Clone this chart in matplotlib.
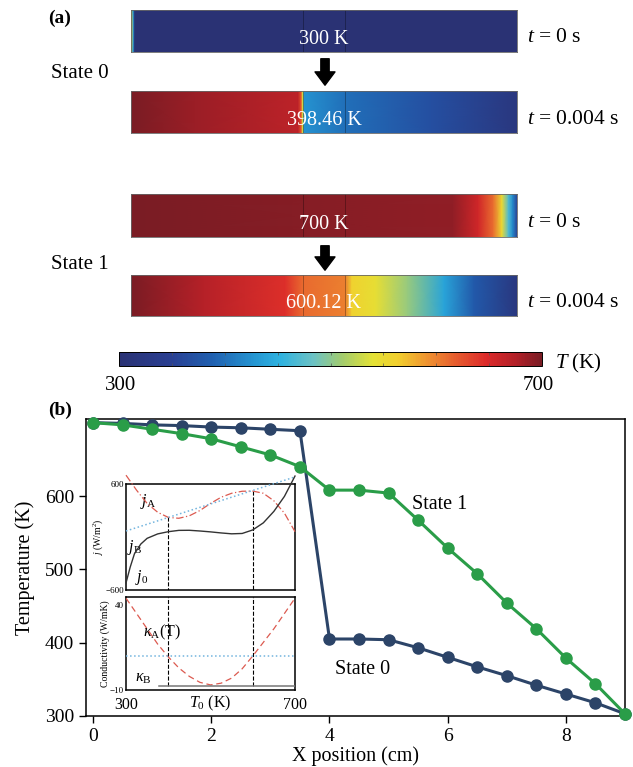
import numpy as np
import matplotlib
matplotlib.use('Agg')
import matplotlib.pyplot as plt
from matplotlib.colors import LinearSegmentedColormap, Normalize
from matplotlib.patches import FancyArrowPatch
import matplotlib.cm as cm

plt.rcParams['font.family'] = ['Liberation Serif', 'DejaVu Serif']
plt.rcParams['mathtext.fontset'] = 'custom'
plt.rcParams['mathtext.rm'] = 'Liberation Serif'
plt.rcParams['mathtext.it'] = 'Liberation Serif:italic'
plt.rcParams['mathtext.bf'] = 'Liberation Serif:bold'

W, H = 633, 767

# ---- panel (b): temperature along the rod at t = 0.004 s
x_cm = [0, 0.5, 1, 1.5, 2, 2.5, 3, 3.5, 4, 4.5, 5, 5.5, 6, 6.5, 7, 7.5, 8, 8.5, 9]
T_state0 = [700, 699, 697, 696, 694, 693, 691, 689, 405, 405, 404, 393, 380,
            367, 355, 342, 330, 318, 303]
T_state1 = [700, 697, 691, 685, 678, 667, 656, 640, 608, 608, 604, 567, 529,
            494, 454, 419, 379, 344, 303]

# ---- panel (a): temperature profiles painted on the rods
rod_s0_t0_x = [0, 0.02, 0.05, 0.09, 9]
rod_s0_t0_T = [640, 560, 430, 300, 300]
rod_s0_t1_x = [0, 1.5, 3.9, 3.97, 4.0, 4.04, 5.0, 7.0, 9.0]
rod_s0_t1_T = [700, 685, 668, 620, 545, 425, 398.46, 368, 318]
rod_s1_t0_x = [0, 7.5, 8.1, 8.45, 8.65, 8.8, 8.9, 9.0]
rod_s1_t0_T = [700, 690, 655, 610, 550, 470, 420, 350]
rod_s1_t1_x = [0, 1.7, 3.6, 4.0, 5.0, 5.15, 5.7, 6.45, 7.3, 8.0, 9.0]
rod_s1_t1_T = [700, 672, 645, 612, 600.12, 560, 545, 505, 440, 380, 318]
rod_labels = ['300 K', '398.46 K', '700 K', '600.12 K']
time_labels = [r'$t$ = 0 s', r'$t$ = 0.004 s', r'$t$ = 0 s', r'$t$ = 0.004 s']

# ---- inset: flux vs T0
T0_A = [300, 325, 350, 375, 400, 425, 450, 475, 500, 525, 550, 575, 600, 625,
        650, 675, 700]
j_A = [700, 530, 380, 280, 222, 212, 240, 300, 380, 450, 495, 518, 520, 495,
       410, 270, 60]
T0_B = [300, 310, 320, 335, 350, 375, 400, 425, 450, 475, 500, 525, 550, 575,
        600, 625, 650, 675, 700]
j_B = [-520, -340, -190, -80, -15, 35, 60, 75, 76, 68, 58, 46, 36, 40, 80, 160,
       290, 460, 690]
T0_line = [300, 700]
j_0 = [68, 680]
T_eq = [398.46, 600.12]
j_eq = [222, 520]

# ---- inset: conductivities
kappa_A = [44, 35, 26, 17, 9.5, 3, -2, -5.5, -7, -6, -3, 2.5, 10, 18, 26, 35, 44]
kappa_B_T = [378, 700]
kappa_B = [-7.5, -7.5]
kappa_ref = [10, 10]

cmap = LinearSegmentedColormap.from_list('rod', [
    (0.0, '#2a3274'), (0.12, '#2a3f92'), (0.22, '#2060b0'), (0.32, '#2596d2'),
    (0.38, '#2eb2e0'), (0.46, '#6cc2c4'), (0.53, '#a4cc6a'), (0.6, '#e4e236'),
    (0.66, '#f2cf2e'), (0.74, '#ee8a30'), (0.8, '#e65a2e'), (0.87, '#dc2a2a'),
    (0.94, '#b22028'), (1.0, '#7a1c24')])
norm = Normalize(300, 700)

fig = plt.figure(figsize=(W / 100, H / 100), dpi=100)


def fx(px):
    return px / W


def fy(py):
    return 1 - py / H


def draw_rod(top, bot, xs, Ts, label):
    ax = fig.add_axes([fx(131), fy(bot), fx(517 - 131), (bot - top) / H])
    X = np.array([xs, xs], dtype=float)
    Y = np.array([np.zeros(len(xs)), np.ones(len(xs))])
    C = np.array([Ts, Ts], dtype=float)
    ax.pcolormesh(X, Y, C, shading='gouraud', cmap=cmap, norm=norm)
    ax.set_xlim(0, 9)
    ax.set_ylim(0, 1)
    for xb in (4, 5):
        ax.axvline(xb, color='k', lw=0.6, alpha=0.35)
    ax.text(4.5, 0.3, label, color='white', ha='center', va='center',
            fontsize=14.5)
    ax.set_xticks([])
    ax.set_yticks([])
    for s in ax.spines.values():
        s.set_color('#666666')
        s.set_linewidth(0.6)
    return ax


rods = [(10, 52, rod_s0_t0_x, rod_s0_t0_T),
        (91, 133, rod_s0_t1_x, rod_s0_t1_T),
        (194, 237, rod_s1_t0_x, rod_s1_t0_T),
        (275, 316, rod_s1_t1_x, rod_s1_t1_T)]
for (top, bot, xs, Ts), lab, tl in zip(rods, rod_labels, time_labels):
    draw_rod(top, bot, xs, Ts, lab)
    fig.text(fx(527), fy((top + bot) / 2 + 7), tl, fontsize=15.5, va='center')

fig.text(fx(48), fy(18), '(a)', fontsize=14, fontweight='bold', va='center')
fig.text(fx(51), fy(74), 'State 0', fontsize=15, va='center')
fig.text(fx(51), fy(265), 'State 1', fontsize=15, va='center')

for y0, y1 in [(56, 88), (243, 273)]:
    arr = FancyArrowPatch((fx(325), fy(y0)), (fx(325), fy(y1)),
                          transform=fig.transFigure,
                          arrowstyle='simple,head_length=0.8,head_width=1.2,tail_width=0.5',
                          mutation_scale=12, color='k')
    fig.patches.append(arr)

# colour scale
cax = fig.add_axes([fx(119), fy(366), fx(542 - 119), 14 / H])
cb = fig.colorbar(cm.ScalarMappable(norm=norm, cmap=cmap), cax=cax,
                  orientation='horizontal')
cb.set_ticks([350, 400, 450, 500, 550, 600, 650])
cax.tick_params(direction='in', length=2.5, width=0.5, color='#555555',
                labelbottom=False, top=True)
cb.outline.set_linewidth(0.7)
fig.text(fx(121), fy(385), '300', fontsize=15, ha='center', va='center')
fig.text(fx(538), fy(385), '700', fontsize=15, ha='center', va='center')
fig.text(fx(555), fy(363), r'$T$ (K)', fontsize=15, va='center')

# ---- main temperature plot
ax = fig.add_axes([fx(86), fy(716), fx(625 - 86), (716 - 419) / H])
ax.plot(x_cm, T_state0, '-o', color='#2c4468', lw=2.2, ms=8, clip_on=False,
        zorder=3)
ax.plot(x_cm, T_state1, '-o', color='#2a9d48', lw=2.2, ms=8, clip_on=False,
        zorder=3)
ax.set_xlim(-0.12, 9)
ax.set_ylim(300, 705)
ax.set_xticks([0, 2, 4, 6, 8])
ax.set_yticks([300, 400, 500, 600])
ax.tick_params(labelsize=14, length=5, width=1, direction='out')
for s in ax.spines.values():
    s.set_linewidth(1.1)
ax.set_xlabel('X position (cm)', fontsize=14.5, labelpad=1)
ax.set_ylabel('Temperature (K)', fontsize=14.5, labelpad=7)
ax.text(5.4, 588, 'State 1', fontsize=14.5, va='center')
ax.text(4.1, 364, 'State 0', fontsize=14.5, va='center')
fig.text(fx(48), fy(410), '(b)', fontsize=14, fontweight='bold', va='center')

# ---- inset: fluxes
axj = fig.add_axes([fx(126), fy(590), fx(295 - 126), (590 - 484) / H])
axj.plot(T0_A, j_A, color='#dc5a50', ls=(0, (6, 2, 1, 2)), lw=0.9,
         clip_on=False, zorder=4)
axj.plot(T0_line, j_0, color='#72b4de', ls=':', lw=1.1, clip_on=False, zorder=4)
axj.plot(T0_B, j_B, color='#333333', lw=1.0, clip_on=False, zorder=4)
axj.vlines(T_eq, j_eq, -600, colors='k', linestyles='--', lw=0.8)
axj.set_xlim(300, 700)
axj.set_ylim(-600, 600)
axj.set_xticks([])
axj.set_yticks([-600, 600])
axj.tick_params(labelsize=6.5, length=0, pad=1.5)
axj.set_ylabel(r'$j$ (W/m$^2$)', fontsize=7, labelpad=0)
axj.text(333, 400, r'$j_\mathrm{A}$', fontsize=11.5, va='center')
axj.text(303, -124, r'$j_\mathrm{B}$', fontsize=11.5, va='center')
axj.text(321, -464, r'$j_0$', fontsize=11.5, va='center')
for s in axj.spines.values():
    s.set_linewidth(1.1)

# ---- inset: conductivities
axk = fig.add_axes([fx(126), fy(690), fx(295 - 126), (690 - 597) / H])
axk.plot(T0_A, kappa_A, color='#dc5a50', ls=(0, (5, 3)), lw=0.9, zorder=4)
axk.plot(T0_line, kappa_ref, color='#72b4de', ls=':', lw=1.1, zorder=4)
axk.plot(kappa_B_T, kappa_B, color='#777777', lw=1.1, zorder=4)
axk.vlines(T_eq, -7.5, 44.7, colors='k', linestyles='--', lw=0.8)
axk.set_xlim(300, 700)
axk.set_ylim(-10, 44.7)
axk.set_xticks([300, 700])
axk.set_yticks([-10, 40])
axk.tick_params(axis='y', labelsize=6.5, length=0, pad=1.5)
axk.tick_params(axis='x', labelsize=11.5, length=0, pad=5)
axk.set_ylabel('Conductivity (W/mK)', fontsize=7, labelpad=0)
axk.text(500, -12.5, r'$T_0$ (K)', fontsize=11.5, ha='center', va='top')
axk.text(340, 24, r'$\kappa_\mathrm{A}$(T)', fontsize=11.5, va='center')
axk.text(321, -3, r'$\kappa_\mathrm{B}$', fontsize=11.5, va='center')
for s in axk.spines.values():
    s.set_linewidth(1.1)

fig.savefig('out.png', dpi=100)
